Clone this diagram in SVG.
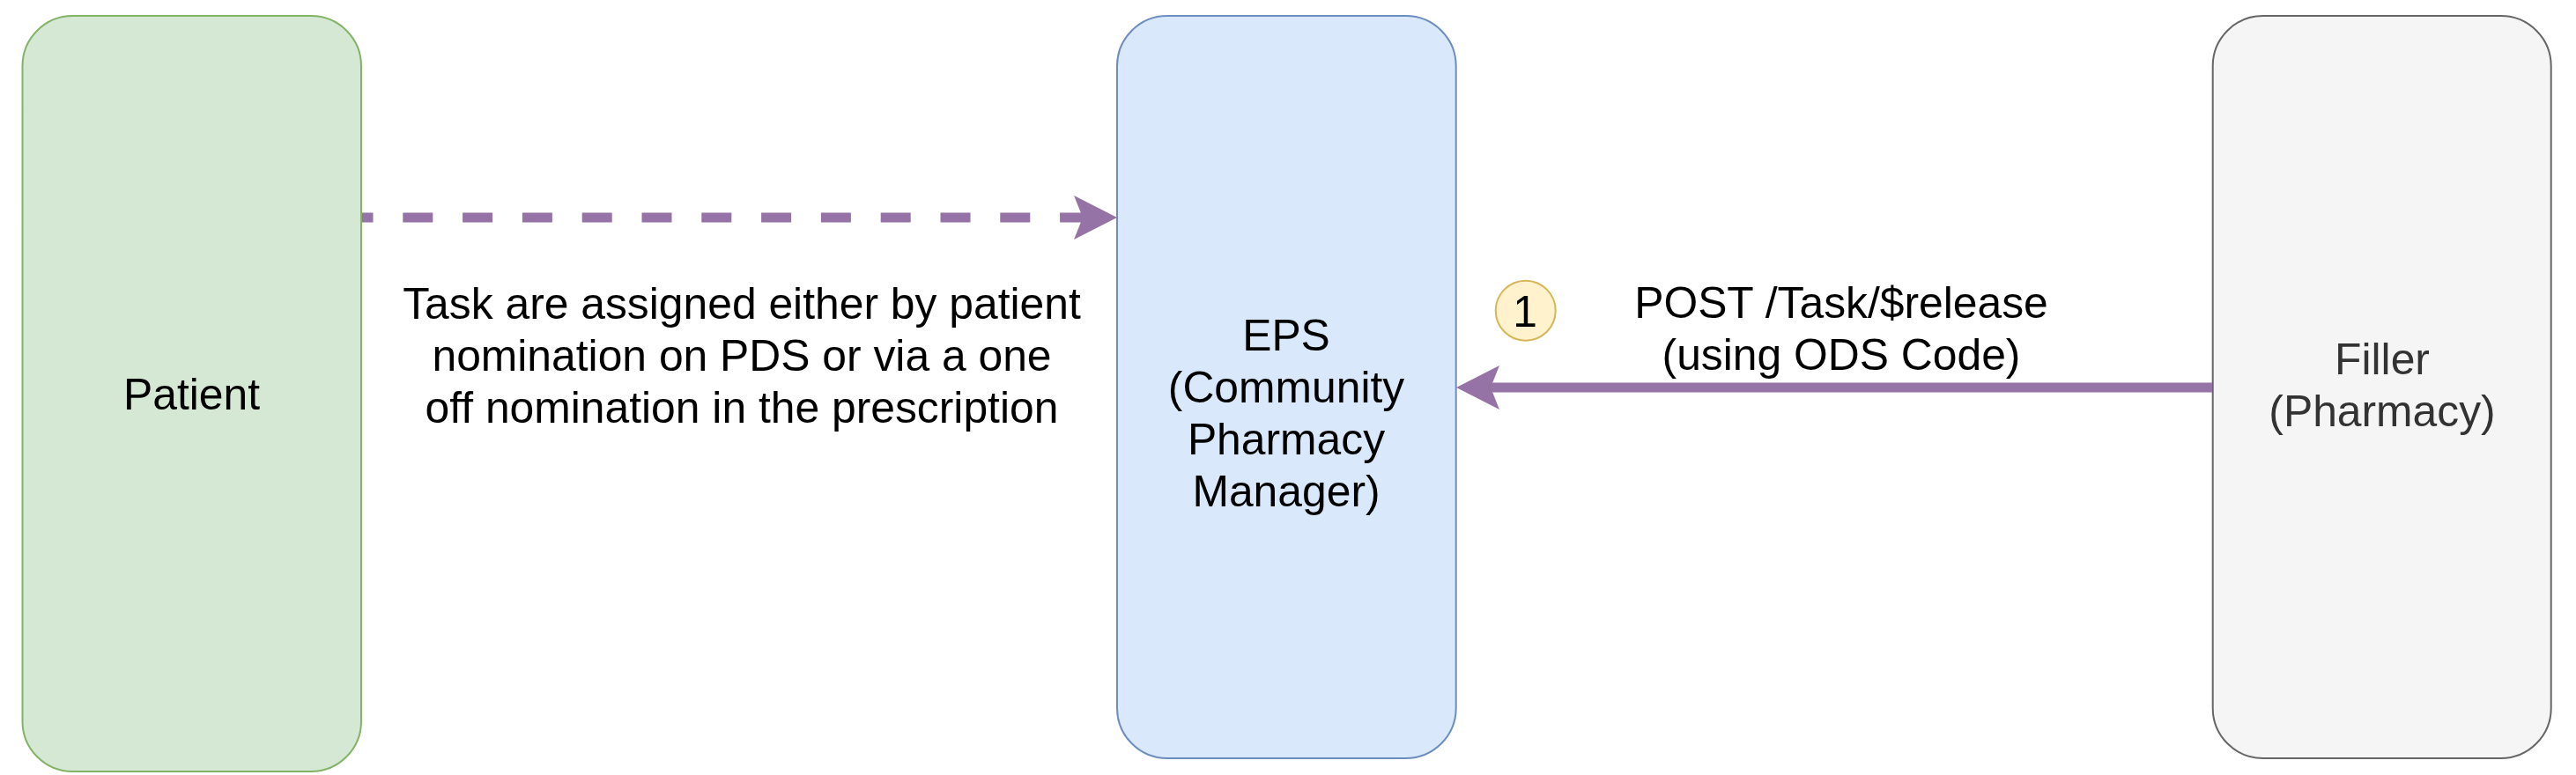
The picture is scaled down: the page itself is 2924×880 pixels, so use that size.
<svg xmlns="http://www.w3.org/2000/svg" width="2924" height="880" viewBox="0 0 2924 880">
  <style>
    .lbl { font-family: "Liberation Sans", Arial, Helvetica, sans-serif; font-size: 49.8px; fill: #000000; text-anchor: middle; }
    .node { stroke-width: 2; }
    .conn { fill: none; stroke: #9673a6; stroke-width: 11; }
  </style>
  <defs>
    <marker id="arrow" viewBox="0 0 49 50" refX="10" refY="25" markerWidth="49" markerHeight="50" markerUnits="userSpaceOnUse" orient="auto">
      <path d="M0,0 L49,25 L0,50 L10,25 Z" fill="#9673a6"/>
    </marker>
  </defs>
  <rect width="2924" height="880" fill="#ffffff"/>

  <g id="patient">
    <rect class="node" x="25.5" y="18" width="384.5" height="858" rx="57" ry="57" fill="#d5e8d4" stroke="#82b366"/>
    <text class="lbl" x="217.5" y="464.5">Patient</text>
  </g>

  <g id="eps">
    <rect class="node" x="1268" y="18" width="384.7" height="843" rx="57" ry="57" fill="#dae8fc" stroke="#6c8ebf"/>
    <text class="lbl" x="1460" y="398">EPS</text>
    <text class="lbl" x="1460" y="457">(Community</text>
    <text class="lbl" x="1460" y="516">Pharmacy</text>
    <text class="lbl" x="1460" y="575">Manager)</text>
  </g>

  <g id="filler">
    <rect class="node" x="2511.7" y="18" width="384" height="843" rx="57" ry="57" fill="#f5f5f5" stroke="#666666"/>
    <text class="lbl" x="2704" y="424.5" style="fill:#333333">Filler</text>
    <text class="lbl" x="2704" y="483.5" style="fill:#333333">(Pharmacy)</text>
  </g>

  <g id="step1">
    <circle cx="1731.7" cy="352.7" r="34" fill="#fff2cc" stroke="#d6b656" stroke-width="2"/>
    <text class="lbl" x="1731" y="370.5">1</text>
  </g>

  <g id="connectors">
    <path class="conn" d="M411,247 L1229,247" stroke-dasharray="34 33.8" stroke-dashoffset="21.5" marker-end="url(#arrow)"/>
    <path class="conn" d="M2511,440 L1692,440" marker-end="url(#arrow)"/>
    <text class="lbl" x="842" y="362">Task are assigned either by patient</text>
    <text class="lbl" x="842" y="421">nomination on PDS or via a one</text>
    <text class="lbl" x="842" y="480">off nomination in the prescription</text>
    <text class="lbl" x="2090" y="361">POST /Task/$release</text>
    <text class="lbl" x="2090" y="420">(using ODS Code)</text>
  </g>
</svg>
